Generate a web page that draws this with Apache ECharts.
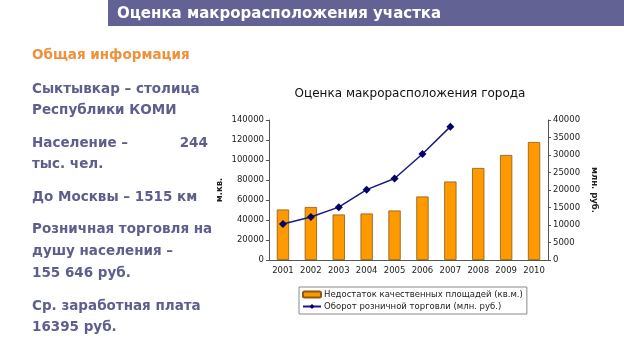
<!DOCTYPE html>
<html>
<head>
<meta charset="utf-8">
<script src="https://cdn.jsdelivr.net/npm/echarts@6/dist/echarts.min.js"></script>
<style>
html,body{margin:0;padding:0;background:#fff;}
#c{width:624px;height:358px;}
</style>
</head>
<body>
<div id="c"></div>
<script>
// ---- data ----
var years = ['2001','2002','2003','2004','2005','2006','2007','2008','2009','2010'];
var shortage = [50500, 53000, 45500, 46500, 49500, 63500, 78500, 92000, 105000, 118000];
var turnover = [10300, 12300, 15100, 20100, 23300, 30300, 38100, null, null, null];
var seriesNames = ['Недостаток качественных площадей (кв.м.)', 'Оборот розничной торговли (млн. руб.)'];
var leftAxisName = 'м.кв.';
var rightAxisName = 'млн. руб.';
var chartTitle = 'Оценка макрорасположения города';
var pageTitle = 'Оценка макрорасположения участка';
var infoHeader = 'Общая информация';
var infoLines = [
  'Сыктывкар – столица',
  'Республики КОМИ',
  'Население –           244',
  'тыс. чел.',
  'До Москвы – 1515 км',
  'Розничная торговля на',
  'душу населения –',
  '155 646 руб.',
  'Ср. заработная плата',
  '16395 руб.'
];
var infoLineY = [89, 110, 143, 164, 197, 229, 251, 273, 306, 327];

var FONT = '"DejaVu Sans", Verdana, sans-serif';
var chart = echarts.init(document.getElementById('c'), null, {renderer: 'canvas'});

var graphics = [
  {type:'rect', shape:{x:108, y:0, width:516, height:26}, style:{fill:'#626294'}},
  {type:'text', x:117, y:14, style:{text:pageTitle, fill:'#ffffff', font:'bold 15px ' + FONT, textVerticalAlign:'middle'}},
  {type:'text', x:32, y:55, style:{text:infoHeader, fill:'#f0903a', font:'bold 13.5px ' + FONT, textVerticalAlign:'middle'}}
];
infoLines.forEach(function(t, i){
  graphics.push({type:'text', x:32, y:infoLineY[i], style:{text:t, fill:'#5e5e8e', font:'bold 13.5px ' + FONT, textVerticalAlign:'middle'}});
});

var axisLabelStyle = {fontFamily: FONT, fontSize: 8.5, color: '#222'};
function plain(v){ return String(v); }

chart.setOption({
  animation: false,
  textStyle: {fontFamily: FONT},
  title: {
    text: chartTitle, left: 405, top: 83, textAlign: 'center',
    textStyle: {fontFamily: FONT, fontSize: 12, fontWeight: 'normal', color: '#111'}
  },
  graphic: graphics,
  grid: {left: 269, right: 76, top: 120, bottom: 98, containLabel: false},
  legend: {
    orient: 'vertical', left: 299, top: 287,
    itemWidth: 18, itemHeight: 6, itemGap: 3,
    padding: [3, 4, 3, 3],
    borderColor: '#888', borderWidth: 1,
    textStyle: {fontFamily: FONT, fontSize: 8.5, color: '#222', padding: [0,0,0,-2]},
    data: seriesNames
  },
  xAxis: {
    type: 'category', data: years,
    axisLine: {lineStyle: {color: '#555'}},
    axisTick: {length: 3, lineStyle: {color: '#555'}},
    axisLabel: Object.assign({margin: 6, interval: 0}, axisLabelStyle)
  },
  yAxis: [
    {
      type: 'value', min: 0, max: 140000, interval: 20000,
      name: leftAxisName, nameLocation: 'middle', nameGap: 45, nameRotate: 90,
      nameTextStyle: {fontFamily: FONT, fontSize: 8.5, fontWeight: 'bold', color: '#222'},
      axisLine: {show: true, lineStyle: {color: '#555'}},
      axisTick: {show: true, length: 3, lineStyle: {color: '#555'}},
      splitLine: {show: false},
      axisLabel: Object.assign({margin: 5, formatter: plain}, axisLabelStyle)
    },
    {
      type: 'value', min: 0, max: 40000, interval: 5000, position: 'right',
      name: rightAxisName, nameLocation: 'middle', nameGap: 42, nameRotate: -90,
      nameTextStyle: {fontFamily: FONT, fontSize: 8.5, fontWeight: 'bold', color: '#222'},
      axisLine: {show: true, lineStyle: {color: '#555'}},
      axisTick: {show: true, length: 3, lineStyle: {color: '#555'}},
      splitLine: {show: false},
      axisLabel: Object.assign({margin: 5, formatter: plain}, axisLabelStyle)
    }
  ],
  series: [
    {
      name: seriesNames[0], type: 'bar', data: shortage, yAxisIndex: 0,
      barWidth: '44%',
      itemStyle: {color: '#ff9900', borderColor: '#8a5a10', borderWidth: 0.8}
    },
    {
      name: seriesNames[1], type: 'line', data: turnover, yAxisIndex: 1,
      symbol: 'diamond', symbolSize: 8, showSymbol: true,
      lineStyle: {color: '#1a1a80', width: 1.5},
      itemStyle: {color: '#000066'}
    }
  ]
});
</script>
</body>
</html>
